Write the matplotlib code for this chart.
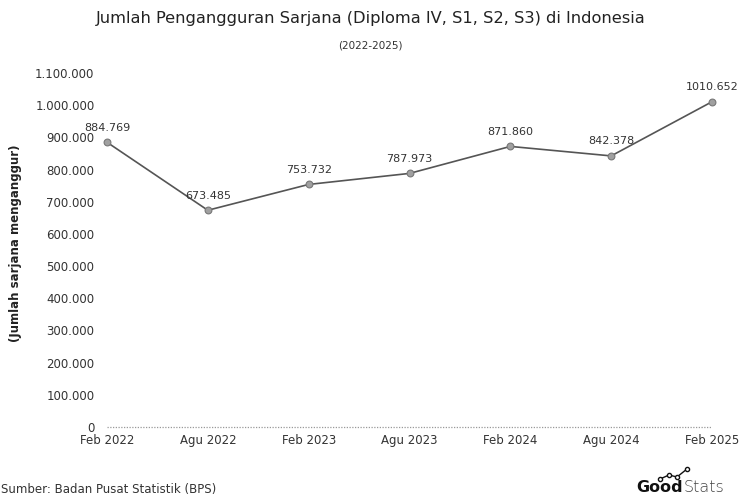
import matplotlib
matplotlib.use("Agg")
import matplotlib.pyplot as plt

periods = ["Feb 2022", "Agu 2022", "Feb 2023", "Agu 2023", "Feb 2024", "Agu 2024", "Feb 2025"]
values = [884769, 673485, 753732, 787973, 871860, 842378, 1010652]
value_labels = ["884.769", "673.485", "753.732", "787.973", "871.860", "842.378", "1010.652"]
yticks = [0, 100000, 200000, 300000, 400000, 500000, 600000, 700000, 800000, 900000, 1000000, 1100000]
ytick_labels = ["0", "100.000", "200.000", "300.000", "400.000", "500.000", "600.000",
                "700.000", "800.000", "900.000", "1.000.000", "1.100.000"]

plt.rcParams['font.family'] = ['DejaVu Sans']

fig = plt.figure(figsize=(7.41, 4.99), dpi=100)
W, H = 741, 499
ax = fig.add_axes([107 / W, 1 - 427 / H, (712 - 107) / W, (427 - 73) / H])

x = list(range(len(periods)))
ax.plot(x, values, color="#555555", lw=1.2, zorder=3, clip_on=False)
ax.scatter(x, values, s=24, color="#a0a0a0", edgecolor="#777777", linewidth=0.8, zorder=4, clip_on=False)
for xi, v, lab in zip(x, values, value_labels):
    ax.annotate(lab, (xi, v), xytext=(0, 7), textcoords="offset points",
                ha="center", va="bottom", fontsize=8, color="#333333")

ax.set_xlim(0, len(periods) - 1)
ax.set_ylim(0, 1100000)
ax.set_yticks(yticks)
ax.set_yticklabels(ytick_labels)
ax.set_xticks(x)
ax.set_xticklabels(periods)
ax.tick_params(axis="both", length=0, labelsize=8.5, colors="#333333")
ax.tick_params(axis="y", pad=9)
ax.tick_params(axis="x", pad=5)
ax.axhline(0, color="#999999", lw=0.9, ls=(0, (1, 1.2)), zorder=1, clip_on=False)
for s in ax.spines.values():
    s.set_visible(False)

ax.set_ylabel("(Jumlah sarjana menganggur)", fontsize=8.5, fontweight="bold", color="#222222")
ax.yaxis.set_label_coords(-85 / 605, 0.52)

fig.text(0.5, 1 - 18 / H, "Jumlah Pengangguran Sarjana (Diploma IV, S1, S2, S3) di Indonesia",
         ha="center", va="center", fontsize=11.7, color="#222222")
fig.text(0.5, 1 - 46 / H, "(2022-2025)", ha="center", va="center", fontsize=7.5, color="#333333")
fig.text(1 / W, 1 - 490 / H, "Sumber: Badan Pusat Statistik (BPS)", ha="left", va="center", fontsize=8.5, color="#333333")
fig.text(636 / W, 1 - 488 / H, "Good", ha="left", va="center", fontsize=11.5, fontweight="bold", color="#111111")
fig.text(684 / W, 1 - 488 / H, "Stats", ha="left", va="center", fontsize=11.5, fontweight="light", color="#444444")
# small logo icon
icon_x = [660 / W, 669 / W, 677 / W, 687 / W]
icon_y = [1 - 479 / H, 1 - 475 / H, 1 - 477 / H, 1 - 469 / H]
fig.add_artist(plt.Line2D(icon_x, icon_y, color="#111111", lw=1.0, marker="o", ms=3,
                          mfc="white", mec="#111111", mew=1.0))

fig.savefig("out.png", dpi=100, facecolor="white")
